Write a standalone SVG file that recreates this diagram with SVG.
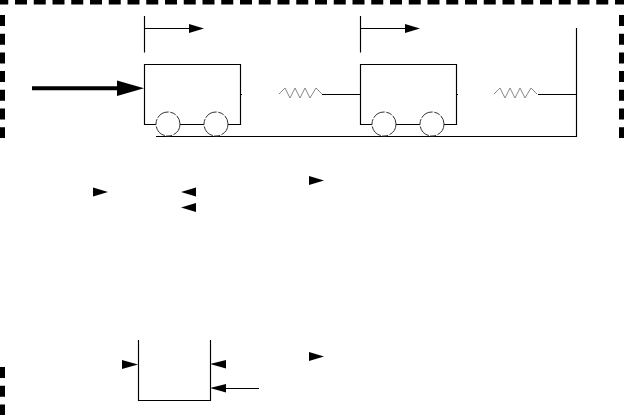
<svg xmlns="http://www.w3.org/2000/svg" width="624" height="415" viewBox="0 0 624 415">
<style>
.l{fill:none;stroke:#000;stroke-width:1.15}
.t{fill:none;stroke:#000;stroke-width:4.5;stroke-dasharray:12 6.75}
.f{fill:none;stroke:#000;stroke-width:5;stroke-dasharray:11 7.7}
.w{fill:#fff;stroke:#333;stroke-width:1;stroke-dasharray:13 1.5 6 1.5}
.s{fill:none;stroke:#888;stroke-width:1}
.h{fill:#000}
</style>
<rect width="624" height="415" fill="#fff"/>
<g id="frame">
<path class="t" d="M-3.750 2.250H624"/>
<path class="f" d="M2.500 15V138"/>
<path class="f" d="M621.500 15V138"/>
<path class="f" d="M2.500 367V415"/>
</g>
<g id="connectors">
<path class="l" d="M144.500 16V52.500M144.500 28.500H190"/>
<path class="l" d="M360.500 16V52.500M360.500 28.500H406"/>
<path class="l" d="M322 94.500H360.500M538 94.500H576.500M576.500 28V136.500H156"/>
<path d="M32 88.300H120" fill="none" stroke="#000" stroke-width="4"/>
<path class="h" d="M117 80.500L144 88.300L117 96Z"/>
<path class="h" d="M189 24L204 28.500L189 33Z"/>
<path class="h" d="M405 24L420 28.500L405 33Z"/>
<path class="h" d="M93 187.500L108 192L93 196.500Z"/>
<path class="h" d="M196 187.500L181 192L196 196.500Z"/>
<path class="h" d="M196 203L181 207.500L196 212Z"/>
<path class="h" d="M309 176L324 180.500L309 185Z"/>
<path class="h" d="M122 360L138 364.500L122 369Z"/>
<path class="h" d="M226 360L210 364L226 368.500Z"/>
<path class="h" d="M226 384L210 388L226 392.500Z"/>
<path class="l" d="M225 388.500H259"/>
<path class="h" d="M309 352L324 356.500L309 361Z"/>
</g>
<g id="cart1">
<path class="l" d="M144.500 64.500H240.500V124.500H144.500Z"/>
<path class="l" d="M240 94.500H242"/>
<circle class="w" cx="168" cy="124" r="12"/>
<circle class="w" cx="216" cy="124" r="12"/>
</g>
<g id="spring1"><path class="s" d="M279 94L285 88L290 98L295 88L300 98L305 88L310 98L316 88L322 94"/></g>
<g id="cart2">
<path class="l" d="M360.500 64.500H456.500V124.500H360.500Z"/>
<path class="l" d="M456 94.500H458"/>
<circle class="w" cx="384" cy="124" r="12"/>
<circle class="w" cx="432" cy="124" r="12"/>
</g>
<g id="spring2"><path class="s" d="M494 94L500 88L505 98L510 88L515 98L520 88L525 98L531 88L537 94"/></g>
<g id="block">
<path class="l" d="M138.500 340V400.500H210.500V340"/>
</g>
</svg>
